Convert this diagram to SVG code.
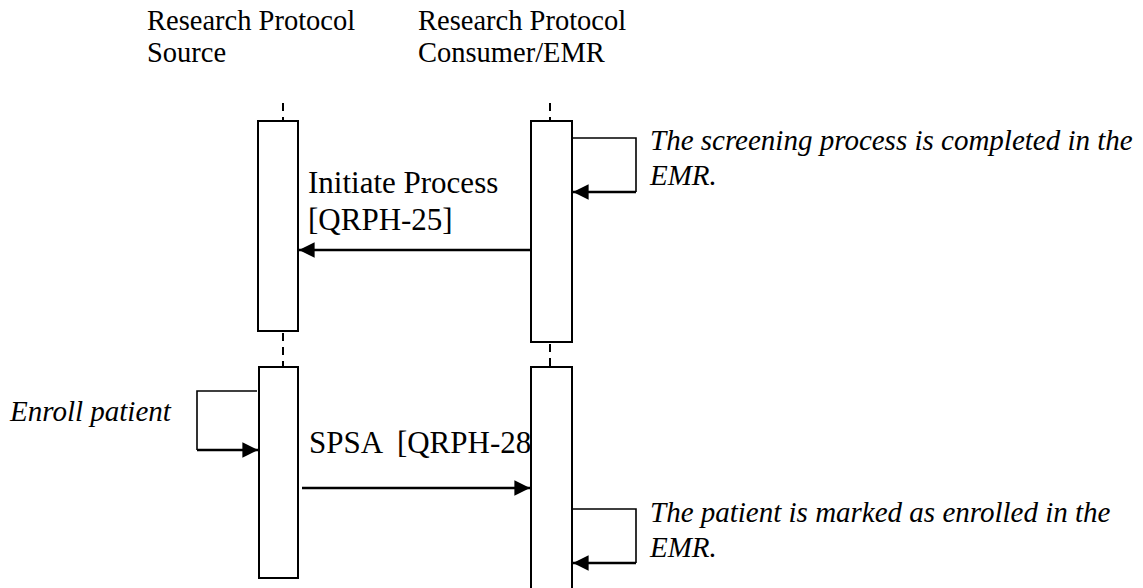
<svg xmlns="http://www.w3.org/2000/svg" width="1143" height="588" viewBox="0 0 1143 588">
  <defs>
    <marker id="arrow" markerWidth="6" markerHeight="6" refX="6" refY="3" orient="auto" markerUnits="strokeWidth">
      <path d="M0,0 L6,3 L0,6 Z" fill="#000"/>
    </marker>
    <style>
      text { font-family: "Liberation Serif", "Times New Roman", serif; fill: #000; }
      .head { font-size: 28.5px; }
      .msg { font-size: 31px; }
      .note { font-size: 29px; font-style: italic; }
      .bar { fill: #fff; stroke: #000; stroke-width: 2; }
      .life { stroke: #000; stroke-width: 2; stroke-dasharray: 8 6; fill: none; }
      .loop { fill: none; stroke: #000; stroke-width: 1.6; }
      .call { fill: none; stroke: #000; stroke-width: 2.6; marker-end: url(#arrow); }
    </style>
  </defs>
  <rect width="1143" height="588" fill="#fff"/>

  <!-- participant: protocol source -->
  <g id="source">
    <text class="head" x="147" y="30">Research Protocol</text>
    <text class="head" x="147" y="62">Source</text>
    <line class="life" x1="283" y1="103" x2="283" y2="121"/>
    <rect class="bar" x="258" y="121" width="40" height="210"/>
    <line class="life" x1="283" y1="333" x2="283" y2="367"/>
    <rect class="bar" x="259" y="367" width="39" height="211"/>
  </g>

  <!-- participant: protocol consumer / EMR -->
  <g id="consumer">
    <text class="head" x="418" y="30">Research Protocol</text>
    <text class="head" x="418" y="62">Consumer/EMR</text>
    <line class="life" x1="550" y1="103" x2="550" y2="121"/>
    <rect class="bar" x="531" y="121" width="41" height="221"/>
    <line class="life" x1="550" y1="344" x2="550" y2="367"/>
    <rect class="bar" x="531" y="367" width="41" height="230"/>
  </g>

  <!-- messages and self calls -->
  <g id="connectors">
    <polyline class="loop" points="573,138 636,138 636,192"/>
    <line class="call" x1="636" y1="192" x2="573" y2="192"/>
    <line class="call" x1="531" y1="250" x2="299" y2="250"/>
    <polyline class="loop" points="257,391 197,391 197,450"/>
    <line class="call" x1="197" y1="450" x2="258" y2="450"/>
    <line class="call" x1="302" y1="488" x2="530" y2="488"/>
    <polyline class="loop" points="573,509 636,509 636,563"/>
    <line class="call" x1="636" y1="563" x2="573" y2="563"/>
  </g>

  <g id="labels">
    <text class="note" x="650" y="150">The screening process is completed in the</text>
    <text class="note" x="650" y="185">EMR.</text>
    <text class="msg" x="308" y="193">Initiate Process</text>
    <text class="msg" x="308" y="230">[QRPH-25]</text>
    <text class="note" x="10" y="421">Enroll patient</text>
    <text class="msg" x="309" y="453" xml:space="preserve">SPSA  [QRPH-28</text>
    <text class="note" x="650" y="522">The patient is marked as enrolled in the</text>
    <text class="note" x="650" y="557">EMR.</text>
  </g>
</svg>
